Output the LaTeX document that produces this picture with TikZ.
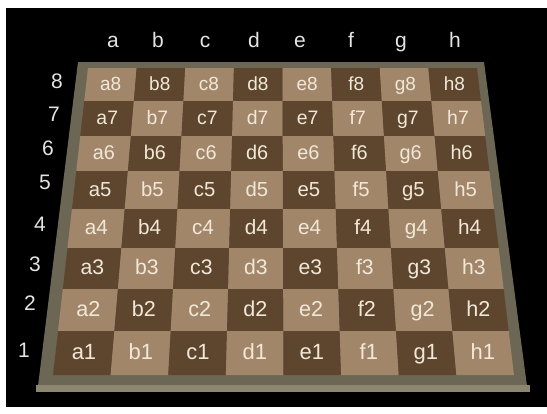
\documentclass[tikz,border=0pt]{standalone}
\usepackage{fontspec}
\setmainfont{Liberation Sans}
\usepackage{tikz}
\usetikzlibrary{calc}
\usepackage{xcolor}
\definecolor{cLight}{RGB}{162,134,106}
\definecolor{cDarkSq}{RGB}{94,70,46}
\definecolor{cFrame}{RGB}{108,102,84}
\definecolor{cLip}{RGB}{140,134,112}
\definecolor{cLabel}{RGB}{240,232,216}
\definecolor{cHead}{RGB}{228,228,228}
\tikzset{
  headlabel/.style={text=cHead, font=\fontsize{21}{21}\selectfont, inner sep=0pt,
                    text height=1.5ex, text depth=0.25ex, yshift=-2pt},
  sqlabel/.style={text=cLabel, inner sep=0pt, text height=1.5ex, text depth=0.25ex,
                  yshift=-3pt},
  sqlight/.style={fill=cLight},
  sqdark/.style={fill=cDarkSq}
}

\begin{document}
\begin{tikzpicture}[x=1pt, y=-1pt]

  % ── Canvas ──
  \useasboundingbox (0,0) rectangle (547,413);
  \fill[white] (0,0) rectangle (547,413);
  \fill[black] (6,8) rectangle (547,407);

  % ── Board frame ──
  \fill[cFrame] (78,62) -- (484,62) -- (527,386) -- (38,386) -- cycle;
  \fill[cLip] (36,385) -- (530,385) -- (530,392) -- (36,392) -- cycle;

  % ── Squares (rank / top edge / bottom edge) ──
  \foreach \r/\ya/\yb in {8/68/101, 7/101/136, 6/136/171, 5/171/209,
                          4/209/248, 3/248/289, 2/289/331, 1/331/375} {
    \pgfmathsetmacro\xla{88-35*(\ya-68)/307}
    \pgfmathsetmacro\xra{477+37*(\ya-68)/307}
    \pgfmathsetmacro\xlb{88-35*(\yb-68)/307}
    \pgfmathsetmacro\xrb{477+37*(\yb-68)/307}
    \pgfmathsetmacro\fs{19+3*(8-\r)/7}
    \foreach \c [count=\ci from 0] in {a,b,c,d,e,f,g,h} {
      \pgfmathtruncatemacro\odd{mod(\ci+\r,2)}
      \ifnum\odd=1 \def\sqcol{sqdark}\else\def\sqcol{sqlight}\fi
      \pgfmathsetmacro\pa{\xla+(\xra-\xla)*\ci/8}
      \pgfmathsetmacro\pb{\xla+(\xra-\xla)*(\ci+1)/8}
      \pgfmathsetmacro\pc{\xlb+(\xrb-\xlb)*(\ci+1)/8}
      \pgfmathsetmacro\pd{\xlb+(\xrb-\xlb)*\ci/8}
      \fill[\sqcol] (\pa,\ya) -- (\pb,\ya) -- (\pc,\yb) -- (\pd,\yb) -- cycle;
      \node[sqlabel, font=\fontsize{\fs}{\fs}\selectfont] (\c\r)
        at ({(\pa+\pb+\pc+\pd)/4},{(\ya+\yb)/2}) {\c\r};
    }
  }

  % ── File letters ──
  \foreach \c/\x in {a/113, b/158, c/205, d/254, e/300, f/351, g/401, h/455}
    \node[headlabel] (file\c) at (\x,42) {\c};

  % ── Rank numbers ──
  \foreach \r/\x/\y in {8/57/83, 7/54/116, 6/48/150, 5/45/184,
                        4/40/226, 3/35/266, 2/30/305, 1/24/352}
    \node[headlabel] (rank\r) at (\x,\y) {\r};

\end{tikzpicture}
\end{document}
